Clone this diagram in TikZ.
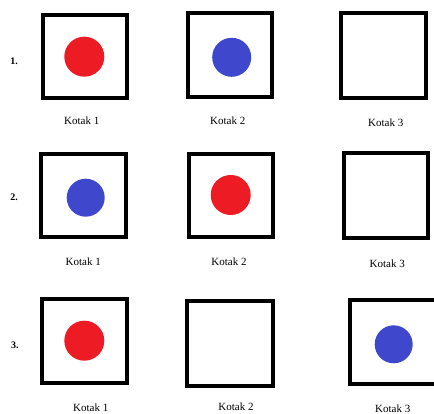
\documentclass[tikz,border=0pt]{standalone}
\usepackage{fontspec}
\setmainfont{Liberation Serif}
\definecolor{pred}{HTML}{ED1C24}
\definecolor{pblue}{HTML}{3F48CC}
\begin{document}
\begin{tikzpicture}[x=1pt,y=-1pt,
  kbox/.style={draw=black,line width=4pt,inner sep=0pt,fill=white},
  dotred/.style={circle,fill=pred,inner sep=0pt,minimum size=40pt},
  dotblue/.style={circle,fill=pblue,inner sep=0pt,minimum size=39pt},
  lbl/.style={font=\fontsize{11}{13}\selectfont,inner sep=0pt},
  num/.style={font=\fontsize{10}{12}\selectfont\bfseries,inner sep=0pt}]
\useasboundingbox (0,0) rectangle (434,414);
\clip (0,0) rectangle (434,414);
% row 1
\node[num] (n1) at (14,61) {1.};
\node[kbox,minimum width=84pt,minimum height=83pt] (b11) at (84.5,56.5) {};
\node[kbox,minimum width=84.6pt,minimum height=84.3pt] (b12) at (230,55.2) {};
\node[kbox,minimum width=85pt,minimum height=85pt] (b13) at (383.5,55.5) {};
\node[dotred] (c11) at (84.3,56.7) {};
\node[dotblue] (c12) at (231.7,57.3) {};
\node[lbl] (l11) at (81.7,121) {Kotak 1};
\node[lbl] (l12) at (227.7,121) {Kotak 2};
\node[lbl] (l13) at (385.7,122.7) {Kotak 3};
% row 2
\node[num] (n2) at (14,197.5) {2.};
\node[kbox,minimum width=84.7pt,minimum height=83.6pt] (b21) at (83.7,195.5) {};
\node[kbox,minimum width=84pt,minimum height=83.6pt] (b22) at (230.7,195.5) {};
\node[kbox,minimum width=84.3pt,minimum height=85.3pt] (b23) at (385.8,195.3) {};
\node[dotblue,minimum size=38pt] (c21) at (85.7,197.7) {};
\node[dotred] (c22) at (230.7,195) {};
\node[lbl] (l21) at (83.3,262) {Kotak 1};
\node[lbl] (l22) at (229,262) {Kotak 2};
\node[lbl] (l23) at (387.3,263.3) {Kotak 3};
% row 3
\node[num] (n3) at (15,345.5) {3.};
\node[kbox,minimum width=84.4pt,minimum height=84.3pt] (b31) at (84.5,340.8) {};
\node[kbox,minimum width=85.7pt,minimum height=85.3pt] (b32) at (229.8,343.7) {};
\node[kbox,minimum width=86pt,minimum height=84.3pt] (b33) at (392.5,341.8) {};
\node[dotred] (c31) at (84.3,340.7) {};
\node[dotblue,minimum size=38pt] (c33) at (393.7,344.3) {};
\node[lbl] (l31) at (90.7,407.7) {Kotak 1};
\node[lbl] (l32) at (236,407) {Kotak 2};
\node[lbl] (l33) at (392.7,409) {Kotak 3};
\end{tikzpicture}
\end{document}
